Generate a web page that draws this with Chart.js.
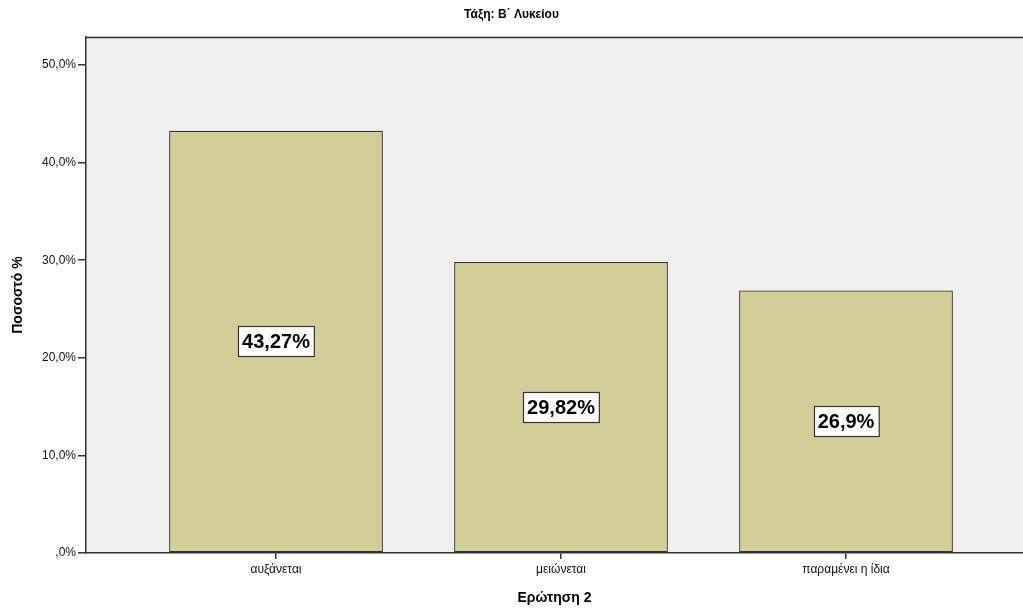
<!DOCTYPE html>
<html>
<head>
<meta charset="utf-8">
<script src="https://cdn.jsdelivr.net/npm/chart.js@4"></script>
<style>
  html, body { margin: 0; padding: 0; background: #ffffff; }
  canvas { display: block; }
</style>
</head>
<body>
<canvas id="chart" width="1023" height="610"></canvas>
<script>
// Answer categories and their percentages
const categories = ['αυξάνεται', 'μειώνεται', 'παραμένει η ίδια'];
const percentages = [43.27, 29.82, 26.9];
const yTickValues = [0, 10, 20, 30, 40, 50];

const chartTitle = 'Τάξη: Β΄ Λυκείου';
const xTitle = 'Ερώτηση 2';
const yTitle = 'Ποσοστό %';

const FONT = 'Liberation Sans, Arial, sans-serif';

function formatTick(v) {
  if (v === 0) return ',0%';
  return v.toFixed(1).replace('.', ',') + '%';
}
function formatValue(v) {
  return String(v).replace('.', ',') + '%';
}

// Plot background and frame
const framePlugin = {
  id: 'frame',
  beforeDraw(chart) {
    const { ctx, chartArea: a } = chart;
    ctx.save();
    ctx.fillStyle = '#efefef';
    ctx.fillRect(a.left, a.top, a.right - a.left, a.bottom - a.top);
    ctx.strokeStyle = '#333333';
    ctx.lineWidth = 1.5;
    ctx.beginPath();
    ctx.moveTo(a.left, a.top + 0.5);
    ctx.lineTo(a.right, a.top + 0.5);
    ctx.stroke();
    ctx.restore();
  }
};

// Boxed value labels at the middle of each bar
const valueLabelPlugin = {
  id: 'valueLabels',
  afterDatasetsDraw(chart) {
    const { ctx } = chart;
    const meta = chart.getDatasetMeta(0);
    ctx.save();
    ctx.font = 'bold 20px ' + FONT;
    ctx.textAlign = 'center';
    ctx.textBaseline = 'middle';
    meta.data.forEach((bar, i) => {
      const text = formatValue(percentages[i]);
      const cx = bar.x;
      const cy = (bar.y + bar.base) / 2;
      const w = ctx.measureText(text).width + 8;
      const h = 30;
      const x0 = Math.round(cx - w / 2) + 0.5;
      const y0 = Math.round(cy - h / 2) + 0.5;
      ctx.fillStyle = '#ffffff';
      ctx.fillRect(x0, y0, w, h);
      ctx.strokeStyle = '#333333';
      ctx.lineWidth = 1.2;
      ctx.strokeRect(x0, y0, w, h);
      ctx.fillStyle = '#000000';
      ctx.fillText(text, cx, cy + 1);
    });
    ctx.restore();
  }
};

new Chart(document.getElementById('chart'), {
  type: 'bar',
  data: {
    datasets: [{
      data: categories.map((c, i) => ({ x: i, y: percentages[i] })),
      backgroundColor: '#d3ce97',
      borderColor: '#333333',
      borderWidth: 1.3,
      borderSkipped: false,
      categoryPercentage: 1,
      barPercentage: 0.75
    }]
  },
  options: {
    responsive: false,
    animation: false,
    layout: { padding: 0 },
    plugins: {
      legend: { display: false },
      tooltip: { enabled: false },
      title: {
        display: true,
        text: chartTitle,
        color: '#000000',
        font: { family: FONT, size: 12, weight: 'bold' },
        padding: { top: 7, bottom: 15.6 }
      }
    },
    scales: {
      x: {
        type: 'linear',
        offset: false,
        min: -0.6667,
        max: 2.621,
        afterBuildTicks(scale) {
          scale.ticks = categories.map((c, i) => ({ value: i }));
        },
        afterFit(scale) { scale.height = 57; },
        ticks: {
          autoSkip: false,
          maxRotation: 0,
          padding: 3,
          color: '#111111',
          font: { family: FONT, size: 12 },
          callback: (v) => categories[v]
        },
        grid: {
          offset: false,
          drawOnChartArea: false,
          drawTicks: true,
          tickLength: 6,
          lineWidth: 1.5,
          color: '#333333'
        },
        border: { display: true, color: '#333333', width: 1.5 },
        title: {
          display: true,
          text: xTitle,
          color: '#000000',
          font: { family: FONT, size: 14, weight: 'bold' },
          padding: { top: 0, bottom: 3 }
        }
      },
      y: {
        min: 0,
        max: 52.87,
        afterBuildTicks(scale) {
          scale.ticks = yTickValues.map(v => ({ value: v }));
        },
        afterFit(scale) { scale.width = 86; },
        ticks: {
          padding: 2,
          color: '#111111',
          font: { family: FONT, size: 12 },
          callback: (v) => formatTick(v)
        },
        grid: {
          drawOnChartArea: false,
          drawTicks: true,
          tickLength: 8,
          lineWidth: 1.5,
          color: '#333333'
        },
        border: { display: true, color: '#333333', width: 1.5 },
        title: {
          display: true,
          text: yTitle,
          color: '#000000',
          font: { family: FONT, size: 14, weight: 'bold' },
          padding: { top: 10, bottom: 0 }
        }
      }
    }
  },
  plugins: [framePlugin, valueLabelPlugin]
});
</script>
</body>
</html>
